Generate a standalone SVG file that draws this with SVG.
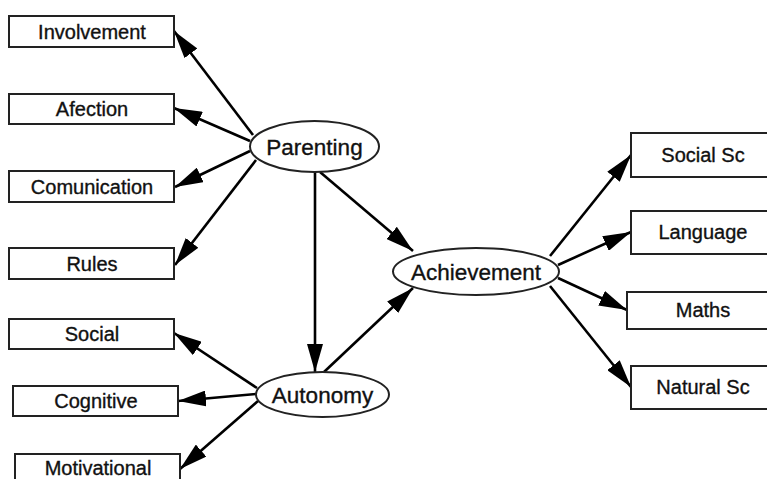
<svg xmlns="http://www.w3.org/2000/svg" width="767" height="479" viewBox="0 0 767 479">
<defs>
<marker id="ah" viewBox="0 0 28 16" refX="28" refY="8" markerWidth="28" markerHeight="16" markerUnits="userSpaceOnUse" orient="auto">
<path d="M0,0 L28,8 L0,16 z" fill="#000"/>
</marker>
<style>
.box{fill:#fff;stroke:#222;stroke-width:2}
.ell{fill:#fff;stroke:#222;stroke-width:2}
.t{font-family:"Liberation Sans",Arial,sans-serif;font-size:20px;fill:#111;stroke:#111;stroke-width:0.35;text-anchor:middle}
.te{font-family:"Liberation Sans",Arial,sans-serif;font-size:22.5px;fill:#111;stroke:#111;stroke-width:0.35;text-anchor:middle}
.c line{stroke:#000;stroke-width:2.6;marker-end:url(#ah)}
</style>
</defs>
<rect width="767" height="479" fill="#fff"/>
<g class="c" id="connectors">
<line x1="253" y1="135" x2="174" y2="31"/>
<line x1="250" y1="141" x2="174" y2="108"/>
<line x1="250" y1="151" x2="175" y2="187"/>
<line x1="256" y1="160" x2="175" y2="265"/>
<line x1="315" y1="172" x2="315" y2="372"/>
<line x1="320" y1="172" x2="413" y2="251"/>
<line x1="324" y1="372" x2="413" y2="288"/>
<line x1="257" y1="388" x2="174" y2="333"/>
<line x1="256" y1="394" x2="178" y2="401"/>
<line x1="258" y1="401" x2="180" y2="469"/>
<line x1="550" y1="256" x2="631" y2="155"/>
<line x1="558" y1="265" x2="631" y2="232"/>
<line x1="558" y1="278" x2="627" y2="310"/>
<line x1="550" y1="286" x2="631" y2="387"/>
</g>
<g id="involvement"><rect class="box" x="9" y="16" width="165" height="31"/><text class="t" x="92" y="39">Involvement</text></g>
<g id="afection"><rect class="box" x="9" y="94" width="165" height="30"/><text class="t" x="92" y="116">Afection</text></g>
<g id="comunication"><rect class="box" x="9" y="171" width="165" height="31"/><text class="t" x="92" y="194">Comunication</text></g>
<g id="rules"><rect class="box" x="9" y="248" width="165" height="31"/><text class="t" x="92" y="271">Rules</text></g>
<g id="social"><rect class="box" x="9" y="319" width="165" height="30"/><text class="t" x="92" y="341">Social</text></g>
<g id="cognitive"><rect class="box" x="13" y="386" width="165" height="30"/><text class="t" x="96" y="408">Cognitive</text></g>
<g id="motivational"><rect class="box" x="15" y="454" width="165" height="40"/><text class="t" x="98" y="475">Motivational</text></g>
<g id="parenting"><ellipse class="ell" cx="314.5" cy="146.5" rx="64.5" ry="25.5"/><text class="te" x="314.5" y="154.5">Parenting</text></g>
<g id="autonomy"><ellipse class="ell" cx="322.5" cy="394.5" rx="66.5" ry="22.5"/><text class="te" x="322.5" y="402.5">Autonomy</text></g>
<g id="achievement"><ellipse class="ell" cx="476" cy="271.5" rx="83" ry="23.5"/><text class="te" x="476" y="279.5">Achievement</text></g>
<g id="socialsc"><rect class="box" x="631" y="133" width="144" height="44"/><text class="t" x="703" y="162">Social Sc</text></g>
<g id="language"><rect class="box" x="631" y="211" width="144" height="43"/><text class="t" x="703" y="239">Language</text></g>
<g id="maths"><rect class="box" x="627" y="292" width="148" height="37"/><text class="t" x="703" y="317">Maths</text></g>
<g id="naturalsc"><rect class="box" x="631" y="366" width="144" height="43"/><text class="t" x="703" y="394">Natural Sc</text></g>
</svg>
